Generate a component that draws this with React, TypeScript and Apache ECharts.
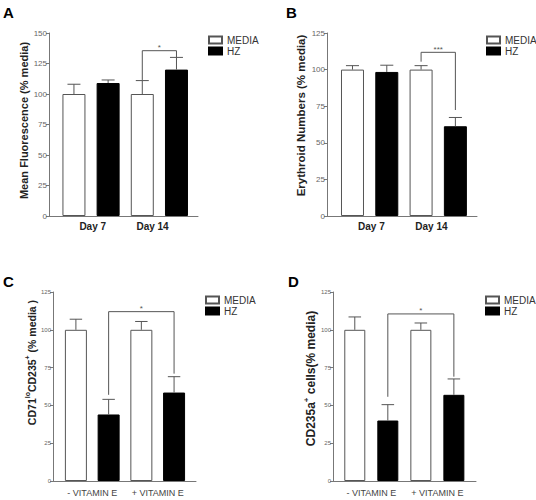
import React, { useEffect, useRef } from "react";
import * as echarts from "echarts";

// ---------- data ----------
const categoriesDay = ["Day 7", "Day 14"];
const categoriesVit = ["- VITAMIN E", "+ VITAMIN E"];
const legendNames = ["MEDIA", "HZ"];

// Panel A: Mean fluorescence
const aMedia = [100, 100];
const aMediaErr = [8, 11];
const aHz = [109, 120];
const aHzErr = [2.5, 10];
const aBracket = [2, 3, 111.5, 130, 135.5]; // fromBar, toBar, leftEnd, rightEnd, top
const aSig = "*";
const aYMax = 150;

// Panel B: Erythroid numbers
const bMedia = [100, 100];
const bMediaErr = [2.7, 2.7];
const bHz = [98.4, 61.3];
const bHzErr = [4.6, 6];
const bBracket = [2, 3, 105.4, 72.4, 111.8];
const bSig = "***";
const bYMax = 125;

// Panel C: CD71lo CD235+
const cMedia = [100, 100];
const cMediaErr = [7, 5.5];
const cHz = [44, 58.5];
const cHzErr = [10, 10.5];
const cBracket = [1, 3, 57, 71, 112];
const cSig = "*";
const cYMax = 125;

// Panel D: CD235a+ cells
const dMedia = [100, 100];
const dMediaErr = [8.5, 4.5];
const dHz = [40, 57];
const dHzErr = [10.5, 10.5];
const dBracket = [1, 3, 55.7, 69, 110.5];
const dSig = "*";
const dYMax = 125;

const yInterval = 25;

const FONT = "Liberation Sans, Arial, sans-serif";

type Panel = {
  letter: string;
  cats: string[];
  yMax: number;
  media: number[];
  mediaErr: number[];
  hz: number[];
  hzErr: number[];
  bracket: number[];
  sig: string;
  yName: string;
  rich?: any;
  nameSize: number;
  nameGap: number;
  nameShift: number;
  grid: number[];
  xMin: number;
  xMax: number;
  barWidth: number;
  labelAt: number[];
  tickFont: number;
  catBold: boolean;
  catSize: number;
  catMargin: number;
  legendPos: number[];
  letterPos: number[];
};

const supRich = (size: number) => ({
  b: { fontSize: size, fontWeight: "bold", color: "#222", fontFamily: FONT, lineHeight: size + 3, verticalAlign: "bottom" },
  s: { fontSize: Math.round(size * 0.68), fontWeight: "bold", color: "#222", fontFamily: FONT, lineHeight: size + 3, verticalAlign: "top" },
});

const panels: Panel[] = [
  {
    letter: "A", cats: categoriesDay, yMax: aYMax, media: aMedia, mediaErr: aMediaErr, hz: aHz, hzErr: aHzErr,
    bracket: aBracket, sig: aSig, yName: "Mean Fluorescence (% media)", nameSize: 11, nameGap: 16, nameShift: 4,
    grid: [49, 33, 149, 183], xMin: -0.73, xMax: 3.63, barWidth: 23, labelAt: [0.55, 2.3],
    tickFont: 8, catBold: true, catSize: 10, catMargin: 5, legendPos: [208, 35], letterPos: [3, 5],
  },
  {
    letter: "B", cats: categoriesDay, yMax: bYMax, media: bMedia, mediaErr: bMediaErr, hz: bHz, hzErr: bHzErr,
    bracket: bBracket, sig: bSig, yName: "Erythroid Numbers (% media)", nameSize: 11.5, nameGap: 20, nameShift: 9,
    grid: [327, 33, 150, 183], xMin: -0.743, xMax: 3.63, barWidth: 23, labelAt: [0.55, 2.3],
    tickFont: 8, catBold: true, catSize: 10, catMargin: 5, legendPos: [486, 35], letterPos: [286, 5],
  },
  {
    letter: "C", cats: categoriesVit, yMax: cYMax, media: cMedia, mediaErr: cMediaErr, hz: cHz, hzErr: cHzErr,
    bracket: cBracket, sig: cSig, yName: "{b|CD71}{s|lo}{b|CD235}{s|+}{b| (% media )}", rich: supRich(10.5), nameSize: 10.5, nameGap: 14, nameShift: 24,
    grid: [53, 292, 143, 189], xMin: -0.7, xMax: 3.67, barWidth: 22, labelAt: [0.5, 2.5],
    tickFont: 6, catBold: false, catSize: 9, catMargin: 7, legendPos: [205, 295], letterPos: [3, 274],
  },
  {
    letter: "D", cats: categoriesVit, yMax: dYMax, media: dMedia, mediaErr: dMediaErr, hz: dHz, hzErr: dHzErr,
    bracket: dBracket, sig: dSig, yName: "{b|CD235a}{s|+}{b| cells(% media)}", rich: supRich(12), nameSize: 12, nameGap: 14, nameShift: 8,
    grid: [333, 292, 143, 189], xMin: -0.66, xMax: 3.67, barWidth: 21, labelAt: [0.5, 2.5],
    tickFont: 6, catBold: false, catSize: 9, catMargin: 7, legendPos: [485, 295], letterPos: [288, 274],
  },
];

const renderError = (_params: any, api: any) => {
  const x = api.value(0);
  const m = api.value(1);
  const t = api.value(2);
  const p0 = api.coord([x, m]);
  const p1 = api.coord([x, t]);
  const half = api.size([1, 0])[0] * 0.19;
  return {
    type: "group",
    children: [
      { type: "line", shape: { x1: p0[0], y1: p0[1], x2: p1[0], y2: p1[1] }, style: { stroke: "#555", lineWidth: 1 } },
      { type: "line", shape: { x1: p1[0] - half, y1: p1[1], x2: p1[0] + half, y2: p1[1] }, style: { stroke: "#555", lineWidth: 1 } },
    ],
  };
};

const makeBracket = (label: string) => (_params: any, api: any) => {
  const x1 = api.value(0);
  const x2 = api.value(1);
  const yl = api.value(2);
  const yr = api.value(3);
  const yt = api.value(4);
  const a = api.coord([x1, yl]);
  const b = api.coord([x1, yt]);
  const c = api.coord([x2, yt]);
  const d = api.coord([x2, yr]);
  return {
    type: "group",
    children: [
      { type: "polyline", shape: { points: [a, b, c, d] }, style: { stroke: "#555", fill: "none", lineWidth: 1 } },
      {
        type: "text", x: (b[0] + c[0]) / 2, y: b[1] + 1,
        style: { text: label, fill: "#555", fontSize: 8, fontFamily: FONT, align: "center", verticalAlign: "bottom" },
      },
    ],
  };
};

function buildOption() {
  const grid: any[] = [];
  const xAxis: any[] = [];
  const yAxis: any[] = [];
  const series: any[] = [];
  const legend: any[] = [];
  const title: any[] = [];

  panels.forEach((p, i) => {
    grid.push({ left: p.grid[0], top: p.grid[1], width: p.grid[2], height: p.grid[3] });
    xAxis.push({
      gridIndex: i, type: "value", min: p.xMin, max: p.xMax,
      splitLine: { show: false }, axisTick: { show: false },
      axisLine: { show: true, onZero: false, lineStyle: { color: "#777", width: 1 } },
      axisLabel: {
        customValues: p.labelAt,
        formatter: (v: number) => p.cats[v < 1.5 ? 0 : 1],
        fontSize: p.catSize, fontWeight: p.catBold ? "bold" : "normal",
        color: p.catBold ? "#222" : "#444", margin: p.catMargin, fontFamily: FONT,
      },
    });
    const pad = [0, 0, 0, p.nameShift * 2];
    yAxis.push({
      gridIndex: i, type: "value", min: 0, max: p.yMax, interval: yInterval,
      splitLine: { show: false },
      axisLine: { show: true, onZero: false, lineStyle: { color: "#777", width: 1 } },
      axisTick: { show: true, length: 3, lineStyle: { color: "#777" } },
      axisLabel: { fontSize: p.tickFont, color: "#666", margin: 2, fontFamily: FONT },
      name: p.yName, nameLocation: "middle", nameGap: p.nameGap, nameRotate: 90,
      nameTextStyle: p.rich
        ? { rich: p.rich, fontFamily: FONT, padding: pad }
        : { fontSize: p.nameSize, fontWeight: "bold", color: "#222", fontFamily: FONT, padding: pad },
    });
    series.push({
      type: "bar", name: legendNames[0], xAxisIndex: i, yAxisIndex: i,
      data: p.media.map((v, k) => [2 * k, v]), barWidth: p.barWidth, barGap: "-100%",
      itemStyle: { color: "#fff", borderColor: "#555", borderWidth: 1 },
    });
    series.push({
      type: "bar", name: legendNames[1], xAxisIndex: i, yAxisIndex: i,
      data: p.hz.map((v, k) => [2 * k + 1, v]), barWidth: p.barWidth, barGap: "-100%",
      itemStyle: { color: "#000", borderColor: "#000", borderWidth: 1 },
    });
    const errData: number[][] = [];
    p.media.forEach((v, k) => errData.push([2 * k, v, v + p.mediaErr[k]]));
    p.hz.forEach((v, k) => errData.push([2 * k + 1, v, v + p.hzErr[k]]));
    series.push({
      type: "custom", xAxisIndex: i, yAxisIndex: i, data: errData, renderItem: renderError, silent: true, z: 3,
    });
    series.push({
      type: "custom", xAxisIndex: i, yAxisIndex: i, data: [p.bracket], renderItem: makeBracket(p.sig), silent: true, z: 3,
    });
    legend.push({
      orient: "vertical", left: p.legendPos[0], top: p.legendPos[1], padding: 0,
      itemWidth: 13, itemHeight: 7, itemGap: 1, icon: "rect", selectedMode: false,
      data: legendNames,
      textStyle: { fontSize: 10, color: "#333", fontFamily: FONT },
    });
    title.push({
      text: p.letter, left: p.letterPos[0], top: p.letterPos[1], padding: 0,
      textStyle: { fontSize: 15, fontWeight: "bold", color: "#000", fontFamily: FONT },
    });
  });

  return {
    animation: false,
    backgroundColor: "#fff",
    textStyle: { fontFamily: FONT },
    title, grid, xAxis, yAxis, series, legend,
  };
}

export default function App() {
  const ref = useRef<HTMLDivElement>(null);
  useEffect(() => {
    if (!ref.current) return;
    const chart = echarts.init(ref.current, undefined, { renderer: "svg" });
    chart.setOption(buildOption() as any);
    return () => chart.dispose();
  }, []);
  return (
    <div
      ref={ref}
      style={{ position: "absolute", left: 0, top: 0, width: 536, height: 500 }}
    />
  );
}
